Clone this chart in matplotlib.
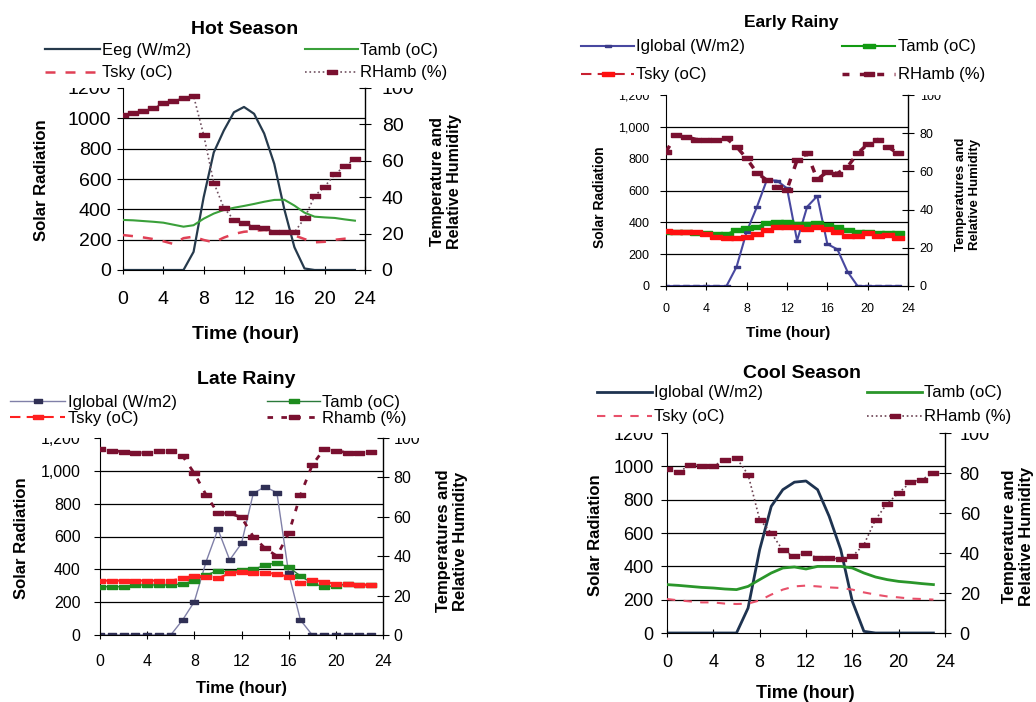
import matplotlib
matplotlib.use("Agg")
import matplotlib.pyplot as plt
from matplotlib.patches import Rectangle
from matplotlib.ticker import StrMethodFormatter

plt.rcParams['font.family'] = ['Liberation Sans', 'DejaVu Sans']

HOURS = list(range(24))
X_TICKS = [0, 4, 8, 12, 16, 20, 24]
LEFT_TICKS = [0, 200, 400, 600, 800, 1000, 1200]
RIGHT_TICKS = [0, 20, 40, 60, 80, 100]

# Hot season
hot_eeg = [0, 0, 0, 0, 0, 0, 0, 120, 480, 775, 920, 1040, 1075, 1030, 900, 700, 400, 150, 10, 0, 0, 0, 0, 0]
hot_tamb = [27.5, 27.3, 26.9, 26.5, 26.0, 24.9, 23.8, 24.6, 28.2, 31.0, 33.0, 34.2, 35.2, 36.3, 37.5, 38.5,
            38.6, 35.4, 31.5, 29.3, 28.9, 28.6, 27.8, 27.1]
hot_tsky = [19.2, 18.6, 17.9, 17.0, 15.8, 14.3, 17.5, 18.3, 16.5, 15.2, 17.8, 19.8, 21.0, 21.5, 22.0, 21.5,
            20.5, 19.0, 17.0, 15.2, 15.5, 16.6, 17.2, 17.4]
hot_rh = [85.2, 86.1, 87.5, 88.8, 91.6, 93.0, 94.3, 95.6, 74.2, 48.0, 34.2, 27.5, 26.0, 23.8, 23.3, 21.0,
          20.7, 20.7, 28.4, 40.7, 45.8, 52.6, 57.1, 61.0]

# Early rainy
early_iglobal = [0, 0, 0, 0, 0, 0, 0, 121, 341, 494, 666, 662, 614, 285, 498, 565, 264, 230, 90, 0, 0, 0, 0, 0]
early_tamb = [28.4, 28.3, 28.2, 28.0, 27.9, 27.2, 27.2, 29.3, 30.2, 31.0, 32.8, 33.7, 33.7, 32.5, 32.5, 32.8,
              31.9, 31.0, 29.3, 28.4, 28.1, 27.9, 27.9, 27.9]
early_tsky = [28.8, 28.1, 28.1, 28.1, 27.2, 25.5, 25.0, 25.0, 25.8, 27.0, 29.3, 30.7, 30.9, 30.9, 29.7, 30.7,
              29.7, 28.4, 26.2, 26.2, 27.9, 26.2, 26.7, 25.0]
early_rh = [70.3, 79.0, 78.1, 76.7, 76.7, 76.4, 77.3, 72.9, 66.8, 59.3, 55.4, 51.6, 50.5, 65.9, 69.4, 55.8,
            59.8, 58.9, 62.4, 69.4, 74.3, 76.7, 72.9, 69.4]

# Late rainy
late_iglobal = [0, 0, 0, 0, 0, 0, 0, 91, 203, 447, 644, 457, 558, 863, 903, 867, 376, 91, 0, 0, 0, 0, 0, 0]
late_tamb = [24.5, 24.5, 24.5, 25.4, 25.4, 25.4, 25.4, 25.9, 27.6, 30.5, 32.6, 32.1, 33.0, 33.3, 35.5, 36.7,
             34.4, 30.0, 26.2, 24.5, 24.9, 26.0, 25.3, 25.3]
late_tsky = [27.6, 27.6, 27.6, 27.6, 27.6, 27.6, 27.6, 28.8, 30.1, 29.6, 28.8, 31.3, 32.1, 31.3, 31.6, 31.0,
             29.6, 26.2, 27.9, 27.1, 25.9, 25.9, 25.4, 25.4]
late_rh = [94.3, 93.6, 93.0, 92.5, 92.5, 93.6, 93.6, 90.9, 82.1, 71.1, 61.8, 61.8, 59.7, 49.9, 44.0, 40.1,
           51.6, 71.1, 86.3, 94.3, 93.6, 92.5, 92.5, 92.8]

# Cool season
cool_iglobal = [0, 0, 0, 0, 0, 0, 0, 150, 500, 760, 860, 905, 912, 860, 700, 500, 190, 10, 0, 0, 0, 0, 0, 0]
cool_tamb = [24.2, 23.8, 23.3, 22.8, 22.5, 22.0, 21.7, 23.3, 26.7, 30.0, 32.5, 33.0, 32.0, 33.3, 33.3, 33.3,
             32.5, 30.0, 28.0, 26.7, 25.8, 25.3, 24.7, 24.2]
cool_tsky = [17.0, 16.3, 15.8, 15.3, 15.3, 14.7, 14.5, 14.7, 16.3, 19.2, 21.7, 23.3, 23.7, 23.3, 22.8, 22.5,
             21.7, 20.3, 19.2, 18.3, 17.8, 17.2, 17.0, 16.7]
cool_rh = [82.0, 80.3, 84.2, 83.7, 83.7, 86.3, 87.5, 79.2, 56.7, 50.0, 41.3, 38.3, 40.0, 37.5, 37.5, 37.0,
           38.3, 44.2, 56.7, 64.7, 70.0, 75.3, 76.7, 80.0]

W, H = 1036, 702
fig = plt.figure(figsize=(W / 100, H / 100), dpi=100)
fig.patch.set_facecolor('white')

# flat rectangle marker (the little bars excel puts on each point)
BAR = [(-1, -0.42), (1, -0.42), (1, 0.42), (-1, 0.42), (-1, -0.42)]


def panel(box, fs, pads, comma=False):
    l, t, r, b = box
    ax = fig.add_axes([l / W, 1 - b / H, (r - l) / W, (b - t) / H])
    ax2 = ax.twinx()
    ax.set_xlim(0, 24)
    ax.set_ylim(0, 1200)
    ax2.set_ylim(0, 100)
    ax.set_xticks(X_TICKS)
    ax.set_yticks(LEFT_TICKS)
    ax2.set_yticks(RIGHT_TICKS)
    if comma:
        ax.yaxis.set_major_formatter(StrMethodFormatter('{x:,.0f}'))
    for v in LEFT_TICKS[1:-1]:
        ax.axhline(v, color='black', linewidth=0.9, zorder=0.5)
    for sp in ('top', 'right'):
        ax.spines[sp].set_visible(False)
    for sp in ('top', 'left', 'bottom'):
        ax2.spines[sp].set_visible(False)
    ax2.spines['right'].set_linewidth(1.0)
    ax.tick_params(axis='x', direction='inout', length=6, labelsize=fs, pad=pads[0])
    ax.tick_params(axis='y', direction='out', length=4, labelsize=fs, pad=pads[1])
    ax2.tick_params(axis='y', direction='inout', length=9, labelsize=fs, pad=pads[2])
    # top tick labels are half hidden under the legend in the original
    for x0, x1 in ((l - 80, l - 2), (r + 3, r + 48)):
        fig.add_artist(Rectangle((x0 / W, 1 - (t - 0.5) / H), (x1 - x0) / W, 16 / H,
                                 transform=fig.transFigure, facecolor='white',
                                 edgecolor='none', zorder=3))
    return ax, ax2


def add_key(line, label, x, y, hl_px=55, fs=12):
    fs_px = fs * 100 / 72
    fig.legend([line], [label], loc='center left', bbox_to_anchor=(x / W, 1 - y / H),
               frameon=False, fontsize=fs, handlelength=hl_px / fs_px, handletextpad=0.15,
               borderpad=0, borderaxespad=0, numpoints=1)


def put(x, y, s, fs, rot=0, bold=True):
    fig.text(x / W, 1 - y / H, s, ha='center', va='center', rotation=rot,
             fontsize=fs, fontweight='bold' if bold else 'normal')


# ---------------- Hot Season ----------------
ax, ax2 = panel((123, 88, 365, 270), 14, (12.2, 4.3, 7.5))
l1, = ax.plot(HOURS, hot_eeg, color='#263a4c', lw=1.6)
l2, = ax2.plot(HOURS, hot_tamb, color='#3aa03a', lw=1.5)
l3, = ax2.plot(HOURS, hot_tsky, color='#e04055', lw=1.8, ls=(0, (4, 4)))
l4, = ax2.plot(HOURS, hot_rh, color='#705060', lw=1.2, ls=':', marker=BAR, ms=7,
               mfc='#7a1030', mec='#7a1030')
put(245, 30, 'Hot Season', 14)
add_key(l1, 'Eeg (W/m2)', 45, 50)
add_key(l3, 'Tsky (oC)', 45, 73)
add_key(l2, 'Tamb (oC)', 305, 50, 53)
add_key(l4, 'RHamb (%)', 305, 73, 53)
put(41, 180, 'Solar Radiation', 12, 90)
put(446, 182, 'Temperature and\nRelative Humidity', 11.5, 90)
put(245, 335, 'Time (hour)', 14)

# ---------------- Early Rainy ----------------
ax, ax2 = panel((666, 95, 908, 286), 9, (9.3, 7.9, 4.0), comma=True)
l1, = ax.plot(HOURS, early_iglobal, color='#4848a0', lw=1.5, marker=BAR, ms=5,
              mfc='#3a3a88', mec='#3a3a88')
l2, = ax2.plot(HOURS, early_tamb, color='#129a12', lw=1.5, marker=BAR, ms=8)
l3, = ax2.plot(HOURS, early_tsky, color='#c82030', lw=1.5, ls=(0, (5, 3)), marker=BAR, ms=8,
               mfc='#ff1010', mec='#ff1010')
l4, = ax2.plot(HOURS, early_rh, color='#7a1030', lw=2.5, ls=(0, (2, 3)), marker=BAR, ms=7)
put(791, 22, 'Early Rainy', 12.5)
add_key(l1, 'Iglobal (W/m2)', 581, 47, 53)
add_key(l3, 'Tsky (oC)', 581, 75, 53)
add_key(l2, 'Tamb (oC)', 842, 47, 53)
add_key(l4, 'RHamb (%)', 842, 75, 53)
put(600, 197, 'Solar Radiation', 10, 90)
put(968, 194, 'Temperatures and\nRelative Humidity', 9.5, 90)
put(788, 333, 'Time (hour)', 11)

# ---------------- Late Rainy ----------------
ax, ax2 = panel((100, 438, 383, 635), 11.5, (10.8, 10.0, 3.2), comma=True)
l1, = ax.plot(HOURS, late_iglobal, color='#8080a8', lw=1, marker=BAR, ms=5.5,
              mfc='#303055', mec='#303055')
l2, = ax2.plot(HOURS, late_tamb, color='#2a7a3a', lw=1, marker=BAR, ms=7.5,
               mfc='#1e8c1e', mec='#1e8c1e')
l3, = ax2.plot(HOURS, late_tsky, color='#ff2020', lw=1.5, ls=(0, (5, 3)), marker=BAR, ms=7.5)
l4, = ax2.plot(HOURS, late_rh, color='#7a1030', lw=2, ls=(0, (2, 3)), marker=BAR, ms=7)
put(246, 379, 'Late Rainy', 14)
add_key(l1, 'Iglobal (W/m2)', 10, 402)
add_key(l3, 'Tsky (oC)', 10, 418)
add_key(l2, 'Tamb (oC)', 267, 402, 53)
add_key(l4, 'Rhamb (%)', 267, 418, 53)
put(22, 538, 'Solar Radiation', 12, 90)
put(452, 541, 'Temperatures and\nRelative Humidity', 12, 90)
put(242, 688, 'Time (hour)', 12)

# ---------------- Cool Season ----------------
ax, ax2 = panel((667, 433, 945, 633), 13, (12.2, 5.7, 6.1))
l1, = ax.plot(HOURS, cool_iglobal, color='#1e3350', lw=2)
l2, = ax2.plot(HOURS, cool_tamb, color='#2a962a', lw=2)
l3, = ax2.plot(HOURS, cool_tsky, color='#e8506a', lw=1.5, ls=(0, (4, 4)))
l4, = ax2.plot(HOURS, cool_rh, color='#6a4050', lw=1.2, ls=':', marker=BAR, ms=7,
               mfc='#7a1030', mec='#7a1030')
put(802, 374, 'Cool Season', 14)
add_key(l1, 'Iglobal (W/m2)', 597, 393)
add_key(l3, 'Tsky (oC)', 597, 417)
add_key(l2, 'Tamb (oC)', 867, 393)
add_key(l4, 'RHamb (%)', 867, 417)
put(596, 535, 'Solar Radiation', 12, 90)
put(1018, 536, 'Temperature and\nRelative Humidity', 12, 90)
put(805, 693, 'Time (hour)', 13)

fig.savefig('out.png', dpi=100, facecolor='white')
